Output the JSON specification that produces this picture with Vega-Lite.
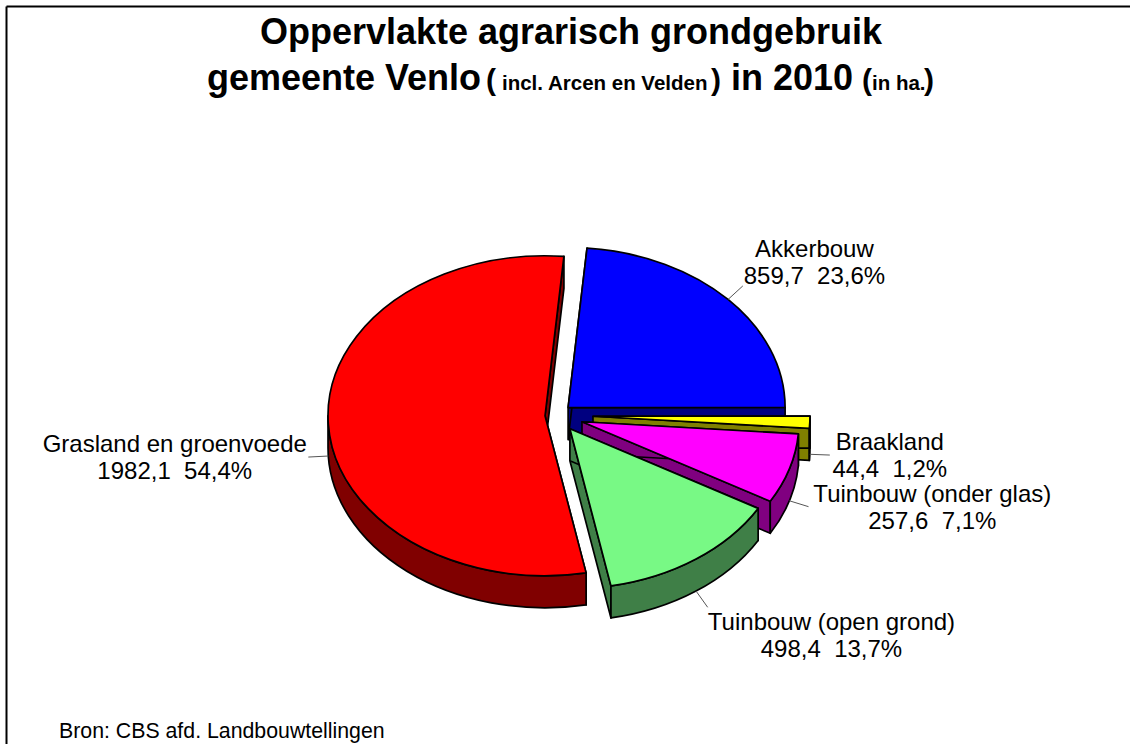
{
"$schema":"https://vega.github.io/schema/vega-lite/v6.json",
"width":1124,"height":738,"autosize":"none",
"padding":{"left":6,"top":6,"right":0,"bottom":0},
"background":"white",
"view":{"stroke":null},
"data":{"values":[
{"seq":1,"slice":"Akkerbouw","value":859.7,"pct":23.6},
{"seq":2,"slice":"Braakland","value":44.4,"pct":1.2},
{"seq":3,"slice":"Tuinbouw (onder glas)","value":257.6,"pct":7.1},
{"seq":4,"slice":"Tuinbouw (open grond)","value":498.4,"pct":13.7},
{"seq":5,"slice":"Grasland en groenvoede","value":1982.1,"pct":54.4}
]},
"transform":[
{"joinaggregate":[{"op":"sum","field":"value","as":"total"}]},
{"window":[{"op":"sum","field":"value","as":"cum"}],"sort":[{"field":"seq","order":"ascending"}],"frame":[null,0]},
{"calculate":"5+datum.cum/datum.total*360","as":"a1"},
{"calculate":"datum.a1-datum.value/datum.total*360","as":"a0"},
{"calculate":"(datum.a0+datum.a1)/2*PI/180","as":"mid"},
{"calculate":"{'Akkerbouw':11,'Braakland':33,'Tuinbouw (onder glas)':23,'Tuinbouw (open grond)':17,'Grasland en groenvoede':15}[datum.slice]","as":"explode"},
{"calculate":"560+datum.explode*sin(datum.mid)","as":"cx"},
{"calculate":"415-datum.explode*cos(datum.mid)","as":"cy"},
{"calculate":"round(217*sin(datum.a0*PI/180)*100)/100","as":"px0"},
{"calculate":"round(-160*cos(datum.a0*PI/180)*100)/100","as":"py0"},
{"calculate":"round(217*sin(datum.a1*PI/180)*100)/100","as":"px1"},
{"calculate":"round(-160*cos(datum.a1*PI/180)*100)/100","as":"py1"},
{"calculate":"'M0,0L'+datum.px0+','+datum.py0+'A217,160 0 '+(datum.a1-datum.a0>180?1:0)+' 1 '+datum.px1+','+datum.py1+'Z'","as":"topPath"},
{"calculate":"'M0,0L'+datum.px0+','+datum.py0+'L'+datum.px0+','+(datum.py0+32)+'L0,32ZM0,0L'+datum.px1+','+datum.py1+'L'+datum.px1+','+(datum.py1+32)+'L0,32Z'","as":"facePath"},
{"calculate":"max(datum.a0,90)*PI/180","as":"w0"},
{"calculate":"min(datum.a1,270)*PI/180","as":"w1"},
{"calculate":"round(217*sin(datum.w0)*100)/100","as":"wx0"},
{"calculate":"round(-160*cos(datum.w0)*100)/100","as":"wy0"},
{"calculate":"round(217*sin(datum.w1)*100)/100","as":"wx1"},
{"calculate":"round(-160*cos(datum.w1)*100)/100","as":"wy1"},
{"calculate":"'M'+datum.wx0+','+datum.wy0+'A217,160 0 0 1 '+datum.wx1+','+datum.wy1+'L'+datum.wx1+','+(datum.wy1+32)+'A217,160 0 0 0 '+datum.wx0+','+(datum.wy0+32)+'Z'","as":"wallPath"},
{"calculate":"datum.cx+217*sin(datum.mid)","as":"sx"},
{"calculate":"datum.cy-160*cos(datum.mid)+(cos(datum.mid)<0.2?32:0)","as":"sy"},
{"calculate":"datum.sx+20*sin(datum.mid)","as":"ex"},
{"calculate":"datum.sy-20*cos(datum.mid)","as":"ey"},
{"calculate":"replace(format(datum.value,'.1f'),'.',',')+'\u00a0\u00a0'+replace(format(datum.pct,'.1f'),'.',',')+'%'","as":"nums"},
{"calculate":"datum.slice+'\\n'+datum.nums","as":"label"},
{"calculate":"5.8*max(length(datum.slice),length(datum.nums))","as":"hw"},
{"calculate":"datum.ex+(sin(datum.mid)>0?datum.hw+2:-datum.hw-6)","as":"tx"},
{"calculate":"datum.ey-12+(cos(datum.mid)>0.5?-24:(cos(datum.mid)<-0.5?28:0))","as":"ty"}
],
"layer":[
{"mark":{"type":"point","filled":true,"opacity":1,"size":4,"stroke":"black","strokeWidth":1.7,"strokeJoin":"round"},
 "encoding":{
  "x":{"field":"cx","type":"quantitative","title":null,"scale":{"domain":[6,1130],"nice":false,"zero":false},"axis":{"orient":"top"}},
  "y":{"field":"cy","type":"quantitative","title":null,"scale":{"domain":[744,6],"nice":false,"zero":false},"axis":{"orient":"left"}},
  "shape":{"field":"facePath","type":"nominal","scale":null,"legend":null},
  "fill":{"field":"slice","type":"nominal","legend":null,"scale":{"domain":["Akkerbouw","Braakland","Tuinbouw (onder glas)","Tuinbouw (open grond)","Grasland en groenvoede"],"range":["#000080","#808000","#800080","#3F7F47","#800000"]}}
 }},
{"transform":[{"filter":"datum.a0<270 && datum.a1>90.5"}],
 "mark":{"type":"point","filled":true,"opacity":1,"size":4,"stroke":"black","strokeWidth":1.7,"strokeJoin":"round"},
 "encoding":{
  "x":{"field":"cx","type":"quantitative","title":null,"axis":{"orient":"top"}},
  "y":{"field":"cy","type":"quantitative","title":null,"axis":{"orient":"left"}},
  "shape":{"field":"wallPath","type":"nominal","scale":null,"legend":null},
  "fill":{"field":"slice","type":"nominal","legend":null,"scale":{"domain":["Akkerbouw","Braakland","Tuinbouw (onder glas)","Tuinbouw (open grond)","Grasland en groenvoede"],"range":["#000080","#808000","#800080","#3F7F47","#800000"]}}
 }},
{"mark":{"type":"point","filled":true,"opacity":1,"size":4,"stroke":"black","strokeWidth":1.7,"strokeJoin":"round"},
 "encoding":{
  "x":{"field":"cx","type":"quantitative","title":null,"axis":{"orient":"top"}},
  "y":{"field":"cy","type":"quantitative","title":null,"axis":{"orient":"left"}},
  "shape":{"field":"topPath","type":"nominal","scale":null,"legend":null},
  "fill":{"field":"slice","type":"nominal","legend":null,"scale":{"domain":["Akkerbouw","Braakland","Tuinbouw (onder glas)","Tuinbouw (open grond)","Grasland en groenvoede"],"range":["#0000FF","#FFFF00","#FF00FF","#78F985","#FF0000"]}}
 }},
{"mark":{"type":"rule","color":"#555555","strokeWidth":1},
 "encoding":{
  "x":{"field":"sx","type":"quantitative","title":null,"axis":{"orient":"top"}},
  "y":{"field":"sy","type":"quantitative","title":null,"axis":{"orient":"left"}},
  "x2":{"field":"ex"},
  "y2":{"field":"ey"}
 }},
{"mark":{"type":"text","font":"Liberation Sans","fontSize":24,"lineHeight":27,"lineBreak":"\n","align":"center","baseline":"middle","color":"black"},
 "encoding":{
  "x":{"field":"tx","type":"quantitative","title":null,"axis":{"orient":"top"}},
  "y":{"field":"ty","type":"quantitative","title":null,"axis":{"orient":"left"}},
  "text":{"field":"label","type":"nominal"}
 }},
{"data":{"values":[{}]},"mark":{"type":"text","text":"Oppervlakte agrarisch grondgebruik","x":565,"y":38,"align":"center","baseline":"alphabetic","font":"Liberation Sans","fontSize":36,"fontWeight":"bold","color":"black"}},
{"data":{"values":[{}]},"mark":{"type":"text","text":"gemeente Venlo","x":201,"y":84,"align":"left","baseline":"alphabetic","font":"Liberation Sans","fontSize":36,"fontWeight":"bold","color":"black"}},
{"data":{"values":[{}]},"mark":{"type":"text","text":"(","x":480,"y":84,"align":"left","baseline":"alphabetic","font":"Liberation Sans","fontSize":30,"fontWeight":"bold","color":"black"}},
{"data":{"values":[{}]},"mark":{"type":"text","text":"incl. Arcen en Velden","x":496,"y":84,"align":"left","baseline":"alphabetic","font":"Liberation Sans","fontSize":20.5,"fontWeight":"bold","color":"black"}},
{"data":{"values":[{}]},"mark":{"type":"text","text":")","x":705,"y":84,"align":"left","baseline":"alphabetic","font":"Liberation Sans","fontSize":30,"fontWeight":"bold","color":"black"}},
{"data":{"values":[{}]},"mark":{"type":"text","text":"in 2010","x":725,"y":84,"align":"left","baseline":"alphabetic","font":"Liberation Sans","fontSize":36,"fontWeight":"bold","color":"black"}},
{"data":{"values":[{}]},"mark":{"type":"text","text":"(","x":856,"y":84,"align":"left","baseline":"alphabetic","font":"Liberation Sans","fontSize":30,"fontWeight":"bold","color":"black"}},
{"data":{"values":[{}]},"mark":{"type":"text","text":"in ha.","x":866,"y":84,"align":"left","baseline":"alphabetic","font":"Liberation Sans","fontSize":20.5,"fontWeight":"bold","color":"black"}},
{"data":{"values":[{}]},"mark":{"type":"text","text":")","x":918,"y":84,"align":"left","baseline":"alphabetic","font":"Liberation Sans","fontSize":30,"fontWeight":"bold","color":"black"}},
{"data":{"values":[{}]},"mark":{"type":"text","text":"Bron: CBS afd. Landbouwtellingen","x":53,"y":732,"align":"left","baseline":"alphabetic","font":"Liberation Sans","fontSize":21.3,"color":"black"}}
],
"resolve":{"scale":{"fill":"independent"}},
"config":{"axis":{"labels":false,"ticks":false,"grid":false,"domain":true,"domainColor":"black","domainWidth":2}}
}
